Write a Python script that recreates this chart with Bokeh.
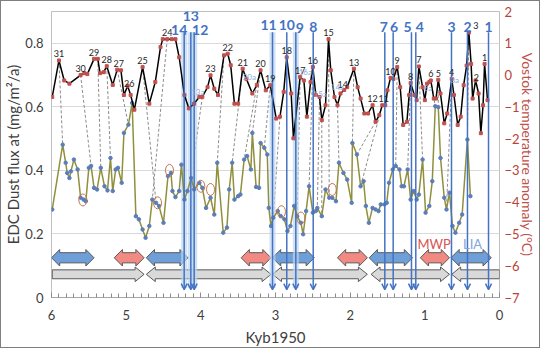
import numpy as np
from bokeh.plotting import figure
from bokeh.models import (Range1d, LinearAxis, ColumnDataSource, LabelSet, Arrow,
                          OpenHead, SingleIntervalTicker, FixedTicker)
from bokeh.embed import file_html
from bokeh.resources import INLINE
from bokeh.core.properties import value

FONT = "Lato"

# ---------------- data ----------------
# Vostok temperature anomaly (deg C) vs age (kyr b1950)
vostok_kyr = [5.99,5.90,5.83,5.76,5.61,5.56,5.52,5.43,5.38,5.35,5.30,5.26,5.18,5.12,5.07,5.03,4.98,4.94,4.89,4.78,
              4.69,4.61,4.54,4.51,4.45,4.39,4.34,4.29,4.22,4.16,4.09,4.02,3.98,3.91,3.87,3.82,3.77,3.69,3.64,3.60,
              3.55,3.50,3.44,3.39,3.31,3.25,3.20,3.13,3.07,2.99,2.94,2.89,2.85,2.79,2.76,2.67,2.62,2.58,2.53,2.50,
              2.46,2.41,2.38,2.33,2.29,2.26,2.21,2.17,2.13,2.08,2.04,1.95,1.90,1.86,1.81,1.76,1.70,1.66,1.61,1.57,
              1.53,1.50,1.46,1.42,1.37,1.33,1.29,1.24,1.21,1.19,1.14,1.11,1.08,1.03,1.00,0.97,0.94,0.92,0.88,0.85,
              0.82,0.79,0.74,0.70,0.64,0.61,0.56,0.52,0.48,0.44,0.41,0.38,0.36,0.32,0.28,0.25,0.22,0.20,0.16]
vostok_temp = [-0.69,0.46,-0.17,-0.27,0.00,0.06,0.03,0.51,0.51,0.06,0.09,0.28,-0.31,0.17,0.15,-0.63,-0.34,-0.63,-1.09,0.25,
               -0.90,-0.22,0.88,1.13,1.13,1.13,1.13,0.56,-0.63,-1.05,-0.90,-0.69,-0.69,-0.38,-0.01,-0.43,-0.63,0.62,0.67,0.31,
               -0.90,-0.90,0.20,-0.12,-0.58,-0.31,0.15,-0.48,-0.32,-1.37,-1.31,-0.53,0.56,-0.58,-1.99,-0.06,-0.17,-1.31,-0.22,0.25,
               -0.63,-0.69,-1.42,-0.95,1.13,0.15,-0.69,-0.95,-0.58,-0.47,-0.38,0.20,-0.38,-0.74,-1.21,-1.21,-0.95,-1.47,-1.26,-0.95,
               -0.95,-0.48,-0.09,-0.12,0.25,-0.38,-1.57,-1.47,-0.63,-0.25,-0.63,-0.79,0.27,-0.38,-0.79,-0.27,-0.22,-0.17,-0.74,-0.74,
               -0.15,-0.58,-1.52,-1.21,-0.12,-0.63,-1.57,-1.31,-0.32,0.30,1.34,0.35,-0.74,-0.17,-0.58,-1.83,-0.95,0.35,-0.79]

# EDC dust flux (mg/m2/a) vs age (kyr b1950)
edc_kyr = [5.99,5.85,5.81,5.79,5.76,5.74,5.70,5.65,5.61,5.57,5.54,5.50,5.47,5.43,5.39,5.34,5.29,5.25,5.21,5.18,
           5.14,5.11,5.06,5.03,4.97,4.92,4.87,4.83,4.78,4.74,4.69,4.65,4.60,4.56,4.50,4.44,4.40,4.38,4.34,4.29,
           4.26,4.22,4.18,4.13,4.09,4.02,3.98,3.93,3.87,3.82,3.78,3.70,3.65,3.62,3.58,3.55,3.50,3.47,3.42,3.38,
           3.33,3.31,3.26,3.22,3.20,3.15,3.11,3.09,3.06,3.03,2.97,2.93,2.88,2.84,2.80,2.75,2.71,2.66,2.63,2.59,
           2.55,2.50,2.46,2.44,2.38,2.33,2.28,2.24,2.19,2.15,2.09,2.04,1.98,1.97,1.91,1.86,1.82,1.79,1.75,1.70,
           1.66,1.62,1.59,1.54,1.51,1.48,1.43,1.39,1.34,1.31,1.28,1.23,1.19,1.15,1.11,1.08,1.03,0.99,0.94,0.90,
           0.86,0.82,0.79,0.74,0.71,0.67,0.63,0.59,0.54,0.50,0.43,0.39]
edc_dust = [0.277,0.481,0.424,0.392,0.376,0.397,0.434,0.403,0.314,0.308,0.303,0.408,0.414,0.345,0.340,0.408,0.350,0.337,0.439,0.335,
            0.403,0.408,0.361,0.518,0.544,0.612,0.256,0.246,0.214,0.188,0.225,0.308,0.298,0.288,0.235,0.382,0.392,0.335,0.316,0.335,
            0.418,0.308,0.335,0.376,0.340,0.361,0.345,0.282,0.314,0.261,0.424,0.204,0.220,0.340,0.424,0.308,0.319,0.324,0.434,0.445,
            0.403,0.518,0.348,0.345,0.486,0.471,0.450,0.282,0.225,0.251,0.272,0.256,0.246,0.209,0.225,0.288,0.256,0.235,0.199,0.272,
            0.350,0.267,0.272,0.282,0.256,0.340,0.314,0.314,0.303,0.424,0.392,0.371,0.298,0.486,0.450,0.350,0.366,0.288,0.235,0.282,
            0.277,0.272,0.293,0.293,0.298,0.361,0.403,0.414,0.403,0.350,0.350,0.403,0.308,0.335,0.308,0.324,0.434,0.267,0.288,0.366,
            0.602,0.599,0.439,0.314,0.277,0.330,0.225,0.204,0.235,0.261,0.497,0.319]

# numbered Vostok warm peaks
peak_names = ["31","30","29","28","27","26","25","24","23","22","21","20","19","18","17","16",
              "15","14","13","12","11","10","9","8","7","6","5","4","3","2","1"]
peak_kyr = [5.90,5.61,5.43,5.26,5.10,4.96,4.78,4.45,3.87,3.64,3.44,3.20,3.07,2.85,2.67,2.50,
            2.29,2.10,1.95,1.70,1.55,1.46,1.37,1.19,1.08,0.92,0.82,0.64,0.41,0.31,0.20]
peak_dx = [0]*28 + [7, 0, 0]

# secondary peaks (light blue labels)
sub_names = ["13a","20a","16a","15a","14a","6a","3a"]
sub_kyr = [4.04,3.35,2.60,2.40,2.17,0.96,0.60]
sub_temp = [-0.53,-0.06,0.09,-0.59,-0.38,-0.41,-0.16]

# tie lines: Vostok peak age -> EDC dust age
tie_vostok_kyr = [5.90,5.61,5.38,5.26,5.12,4.78,4.45,3.98,3.69,3.44,3.25,3.20,3.07,2.94,2.67,
                  2.50,2.41,2.38,2.29,2.17,1.95,1.66,1.57,1.37,1.19,1.08,0.92,0.82,0.64,0.41]
tie_edc_kyr = [5.85,5.47,5.34,5.21,4.97,4.60,4.65,4.13,3.78,3.58,3.42,3.31,3.15,3.03,2.71,
               2.55,2.44,2.38,2.28,2.15,1.97,1.91,1.86,1.39,1.23,1.03,0.86,0.82,0.71,0.43]

# circled dust points
circ_kyr = [5.58,4.58,4.42,4.00,3.87,2.92,2.66,2.24]
circ_dust = [0.307,0.298,0.400,0.350,0.340,0.270,0.250,0.340]

# numbered events (vertical blue lines)
event_names = ["1","2","3","4","5","6","7","8","9","10","11","12","13","14"]
event_kyr = [0.147,0.429,0.643,1.121,1.179,1.424,1.536,2.495,2.728,2.849,3.040,4.089,4.134,4.223]
event_glow = [False]*8 + [True, False, True, True, True, True]
event_dx = [0,0,0,4,-4,1,-1,0,4,0,-4,6,0,-5]
event_dy = [0,0,0,0,0,0,0,0,-1,2,2,-3,11,-3]

# period arrows (start kyr, end kyr, kind)
period_start = [6.00,5.16,4.73,3.46,3.04,2.17,1.745,1.06,0.65]
period_end = [5.43,4.76,4.17,3.06,2.48,1.77,1.165,0.67,0.11]
period_kind = ["cold","warm","cold","warm","cold","warm","cold","warm","cold"]
cycle_start = [5.99,4.73,3.04,1.72,0.64]
cycle_end = [4.76,3.06,1.77,0.67,0.00]
cycle_left_head = [False,True,True,True,True]
cycle_right_head = [True,True,True,True,False]

# ---------------- figure ----------------
p = figure(width=540, height=348, x_range=Range1d(6, 0), y_range=Range1d(0, 0.9),
           output_backend="svg", toolbar_location=None,
           min_border_left=50, min_border_right=42, min_border_top=10, min_border_bottom=52,
           background_fill_color="white", border_fill_color="white")
p.extra_y_ranges = {"temp": Range1d(-7, 2)}
p.outline_line_color = "#BFBFBF"
p.styles = {"border": "1px solid #7F7F7F"}

def temp_to_left(t):
    l0, l1 = p.y_range.start, p.y_range.end
    t0, t1 = p.extra_y_ranges["temp"].start, p.extra_y_ranges["temp"].end
    return l0 + (np.asarray(t) - t0) * (l1 - l0) / (t1 - t0)

def interp_desc(xq, xs, ys):
    xs = np.asarray(xs)[::-1]; ys = np.asarray(ys)[::-1]
    return np.interp(xq, xs, ys)

# axes
p.xaxis.ticker = SingleIntervalTicker(interval=1, num_minor_ticks=10)
p.xaxis.axis_label = "Kyb1950"
p.xaxis.axis_label_text_font = FONT
p.xaxis.axis_label_text_font_style = "normal"
p.xaxis.axis_label_text_font_size = "15px"
p.xaxis.axis_label_text_color = "#404040"
p.xaxis.axis_label_standoff = 5
p.xaxis.major_label_text_font = FONT
p.xaxis.major_label_text_font_size = "13px"
p.xaxis.major_label_text_color = "#404040"
p.xaxis.major_label_standoff = 12
p.xaxis.major_tick_in = 5
p.xaxis.major_tick_out = 0
p.xaxis.minor_tick_in = 4
p.xaxis.minor_tick_out = 0
p.xaxis.major_tick_line_color = "#8C8C8C"
p.xaxis.minor_tick_line_color = "#8C8C8C"
p.xaxis.axis_line_color = "#A6A6A6"

p.yaxis.ticker = FixedTicker(ticks=[0, 0.2, 0.4, 0.6, 0.8])
p.yaxis.major_label_overrides = {0: "0", 0.2: "0.2", 0.4: "0.4", 0.6: "0.6", 0.8: "0.8"}
p.yaxis.axis_label = "EDC Dust flux at (mg/m\u00b2/a)"
p.yaxis.axis_label_text_font = FONT
p.yaxis.axis_label_text_font_style = "normal"
p.yaxis.axis_label_text_font_size = "15px"
p.yaxis.axis_label_text_color = "#404040"
p.yaxis.axis_label_standoff = 0
p.yaxis.major_label_text_font = FONT
p.yaxis.major_label_text_font_size = "13px"
p.yaxis.major_label_text_color = "#404040"
p.yaxis.major_label_standoff = 8
p.yaxis.major_tick_in = 0
p.yaxis.major_tick_out = 0
p.yaxis.minor_tick_in = 0
p.yaxis.minor_tick_out = 0
p.yaxis.axis_line_color = None

p.ygrid.ticker = FixedTicker(ticks=[0.2, 0.4, 0.6, 0.8])
p.ygrid.grid_line_color = "#D9D9D9"
p.xgrid.grid_line_color = None

temp_ticks = list(range(-7, 3))
raxis = LinearAxis(y_range_name="temp", ticker=FixedTicker(ticks=temp_ticks),
                   axis_label="Vostok temperature anomaly (\u00b0C)")
raxis.major_label_overrides = {t: (str(t).replace("-", "\u2212")) for t in temp_ticks}
raxis.axis_label_text_font = FONT
raxis.axis_label_text_font_style = "normal"
raxis.axis_label_text_font_size = "14px"
raxis.axis_label_text_color = "#C0504D"
raxis.axis_label_standoff = -4
raxis.major_label_text_font = FONT
raxis.major_label_text_font_size = "13px"
raxis.major_label_text_color = "#B8423A"
raxis.major_label_standoff = 5
raxis.major_tick_in = 0
raxis.major_tick_out = 0
raxis.minor_tick_in = 0
raxis.minor_tick_out = 0
raxis.axis_line_color = None
p.add_layout(raxis, "right")

# period arrows (block arrows)
def block_arrow(xa, xb, yc, body, hh, hl, left_head, right_head):
    if left_head:
        pts = [(xa, yc), (xa - hl, yc + hh), (xa - hl, yc + body)]
    else:
        pts = [(xa, yc - body), (xa, yc + body)]
    if right_head:
        pts += [(xb + hl, yc + body), (xb + hl, yc + hh), (xb, yc), (xb + hl, yc - hh), (xb + hl, yc - body)]
    else:
        pts += [(xb, yc + body), (xb, yc - body)]
    if left_head:
        pts += [(xa - hl, yc - body), (xa - hl, yc - hh)]
    return [q[0] for q in pts], [q[1] for q in pts]

kind_color = {"cold": "#6F9FD8", "warm": "#F08A82"}
pxs, pys, pcol = [], [], []
for a, b, k in zip(period_start, period_end, period_kind):
    xs_, ys_ = block_arrow(a, b, 0.125, 0.016, 0.026, 0.11, True, True)
    pxs.append(xs_); pys.append(ys_); pcol.append(kind_color[k])
p.patches(pxs, pys, fill_color=pcol, line_color="#595959", line_width=1)

gxs, gys = [], []
for a, b, lh, rh in zip(cycle_start, cycle_end, cycle_left_head, cycle_right_head):
    xs_, ys_ = block_arrow(a, b, 0.073, 0.014, 0.023, 0.12, lh, rh)
    gxs.append(xs_); gys.append(ys_)
p.patches(gxs, gys, fill_color="#D9D9D9", line_color="#595959", line_width=1)

# tie lines
tie_y0 = temp_to_left(interp_desc(tie_vostok_kyr, vostok_kyr, vostok_temp))
tie_y1 = interp_desc(tie_edc_kyr, edc_kyr, edc_dust)
p.segment(x0=tie_vostok_kyr, y0=tie_y0, x1=tie_edc_kyr, y1=tie_y1,
          line_color="#8C8C8C", line_width=1, line_dash="3 2")

# event glow + lines
glow_x = [k for k, g in zip(event_kyr, event_glow) if g]
p.segment(x0=glow_x, y0=[0.03]*len(glow_x), x1=glow_x, y1=[0.835]*len(glow_x),
          line_color="#BDD7EE", line_width=6, line_alpha=0.7)
ev_src = ColumnDataSource(dict(x=event_kyr, y0=[0.835]*len(event_kyr), y1=[0.025]*len(event_kyr)))
p.add_layout(Arrow(source=ev_src, x_start="x", y_start="y0", x_end="x", y_end="y1",
                   line_color="#4472C4", line_width=1.5,
                   end=OpenHead(size=6, line_color="#4472C4", line_width=1.5)))

# EDC dust series
p.line(edc_kyr, edc_dust, line_color="#8F8F3E", line_width=1.5)
p.scatter(edc_kyr, edc_dust, marker="circle", size=3.5, fill_color="#5B7DB8", line_color="#5B7DB8")

# circled points
p.ellipse(circ_kyr, circ_dust, width=8, height=12, width_units="screen", height_units="screen",
          fill_color=None, line_color="#C0774F", line_width=1)

# Vostok series
p.line(vostok_kyr, vostok_temp, y_range_name="temp", line_color="black", line_width=1.5)
p.scatter(vostok_kyr, vostok_temp, y_range_name="temp", marker="square", size=3,
          fill_color="#C0504D", line_color="#C0504D")

# peak labels
peak_temp = interp_desc(peak_kyr, vostok_kyr, vostok_temp)
pk_src = ColumnDataSource(dict(x=peak_kyr, y=peak_temp, t=peak_names, dx=peak_dx))
p.add_layout(LabelSet(source=pk_src, x="x", y="y", text="t", y_range_name="temp", x_offset="dx",
                      y_offset=3, text_align="center", text_baseline="bottom",
                      text_font=value(FONT), text_font_size="9px", text_color="#262626"))
sub_src = ColumnDataSource(dict(x=sub_kyr, y=sub_temp, t=sub_names))
p.add_layout(LabelSet(source=sub_src, x="x", y="y", text="t", y_range_name="temp",
                      text_align="center", text_baseline="middle",
                      text_font=value(FONT), text_font_size="8px", text_color="#8EA9DB"))

# event labels
ev_lab = ColumnDataSource(dict(x=event_kyr, y=[0.85]*len(event_kyr), t=event_names,
                               dx=event_dx, dy=event_dy))
p.add_layout(LabelSet(source=ev_lab, x="x", y="y", text="t", x_offset="dx", y_offset="dy",
                      text_align="center", text_baseline="middle",
                      text_font=value(FONT), text_font_size="14px", text_font_style="bold",
                      text_color="#4472C4"))

# MWP / LIA labels
per_src = ColumnDataSource(dict(x=[0.875, 0.36], y=[0.168, 0.168], t=["MWP", "LIA"],
                                c=["#D9534F", "#7EA6DC"]))
p.add_layout(LabelSet(source=per_src, x="x", y="y", text="t", text_color="c",
                      text_align="center", text_baseline="middle",
                      text_font=value(FONT), text_font_size="13px"))

open("out.html", "w").write(file_html(p, INLINE))
